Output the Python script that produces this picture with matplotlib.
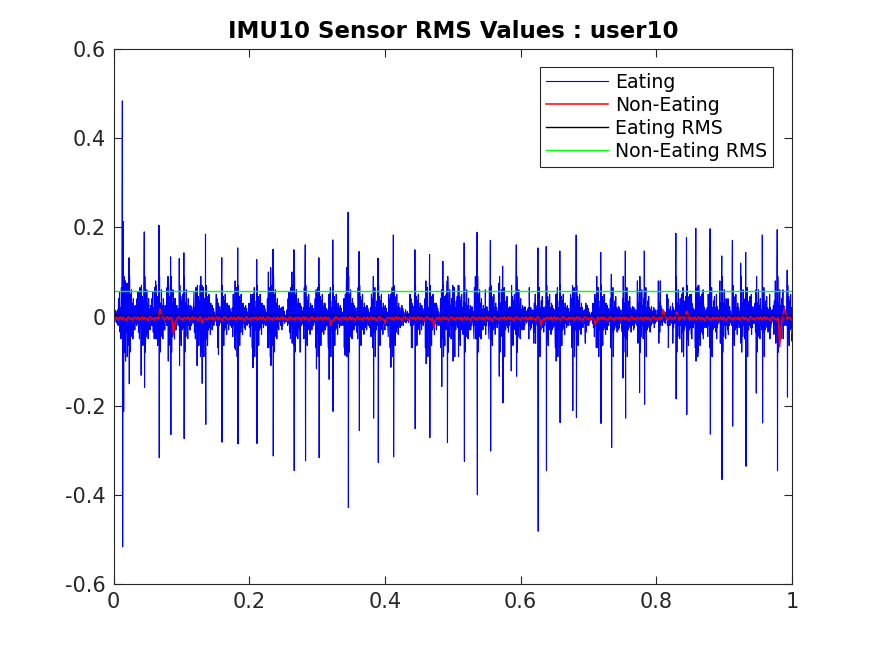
import numpy as np
import matplotlib
matplotlib.use("Agg")
import matplotlib.pyplot as plt

plt.rcParams['font.family'] = ['DejaVu Sans']
plt.rcParams['axes.unicode_minus'] = False

title = "IMU10 Sensor RMS Values : user10"
legend_labels = ["Eating", "Non-Eating", "Eating RMS", "Non-Eating RMS"]
x_ticks = [0, 0.2, 0.4, 0.6, 0.8, 1]
y_ticks = [-0.6, -0.4, -0.2, 0, 0.2, 0.4, 0.6]

# Eating signal: spike events (time, upper peak, lower peak)
spike_t = [0.0127, 0.0142, 0.017, 0.0196, 0.0225, 0.029, 0.040, 0.045, 0.049, 0.0618,
           0.0667, 0.0735, 0.080, 0.0838, 0.0907, 0.0966, 0.1034, 0.1127, 0.1225, 0.1275,
           0.130, 0.1353, 0.1446, 0.154, 0.1593, 0.169, 0.179, 0.1828, 0.1936, 0.205,
           0.2108, 0.2206, 0.228, 0.2314, 0.2348, 0.2475, 0.2627, 0.2657, 0.2745, 0.2824,
           0.2917, 0.2985, 0.3025, 0.3113, 0.3172, 0.323, 0.3333, 0.3407, 0.3436, 0.3456,
           0.353, 0.3618, 0.3725, 0.3828, 0.3897, 0.3995, 0.4083, 0.4123, 0.424, 0.4397,
           0.4441, 0.4534, 0.4603, 0.4657, 0.4755, 0.4833, 0.4853, 0.4917, 0.500, 0.508,
           0.5167, 0.526, 0.5333, 0.5358, 0.548, 0.5554, 0.5681, 0.5735, 0.5858, 0.5936,
           0.6044, 0.6142, 0.6216, 0.6255, 0.6377, 0.646, 0.652, 0.6578, 0.6681, 0.6765,
           0.6819, 0.6975, 0.7123, 0.7181, 0.727, 0.7338, 0.7441, 0.7505, 0.7544, 0.7662,
           0.775, 0.7824, 0.7956, 0.8059, 0.8186, 0.824, 0.8289, 0.8373, 0.8446, 0.852,
           0.8583, 0.8618, 0.8691, 0.8794, 0.8887, 0.8966, 0.9059, 0.9123, 0.9245, 0.9319,
           0.9402, 0.9471, 0.9564, 0.9672, 0.9784, 0.9868, 0.9931]
spike_up = [0.484, 0.213, 0.08, 0.075, 0.132, 0.03, 0.055, 0.19, 0.03, 0.08,
            0.205, 0.03, 0.09, 0.134, 0.04, 0.13, 0.143, 0.02, 0.06, 0.07,
            0.07, 0.185, 0.02, 0.03, 0.132, 0.02, 0.08, 0.154, 0.02, 0.05,
            0.128, 0.02, 0.10, 0.11, 0.151, 0.02, 0.10, 0.15, 0.03, 0.161,
            0.02, 0.06, 0.132, 0.03, 0.05, 0.172, 0.02, 0.04, 0.11, 0.234,
            0.03, 0.146, 0.02, 0.09, 0.131, 0.02, 0.05, 0.183, 0.02, 0.03,
            0.15, 0.02, 0.08, 0.139, 0.03, 0.06, 0.124, 0.08, 0.07, 0.07,
            0.165, 0.02, 0.09, 0.189, 0.06, 0.171, 0.075, 0.113, 0.02, 0.161,
            0.02, 0.02, 0.05, 0.154, 0.157, 0.02, 0.05, 0.147, 0.02, 0.07,
            0.183, 0.01, 0.09, 0.144, 0.02, 0.095, 0.02, 0.04, 0.147, 0.02,
            0.06, 0.147, 0.01, 0.08, 0.015, 0.03, 0.187, 0.05, 0.177, 0.05,
            0.198, 0.07, 0.06, 0.197, 0.05, 0.136, 0.04, 0.171, 0.12, 0.144,
            0.05, 0.06, 0.183, 0.05, 0.195, 0.06, 0.104]
spike_down = [-0.517, -0.213, -0.10, -0.06, -0.151, -0.03, -0.132, -0.159, -0.04, -0.05,
              -0.317, -0.03, -0.10, -0.265, -0.03, -0.11, -0.274, -0.03, -0.11, -0.09,
              -0.15, -0.242, -0.03, -0.085, -0.282, -0.03, -0.075, -0.286, -0.03, -0.115,
              -0.285, -0.02, -0.07, -0.11, -0.313, -0.03, -0.06, -0.346, -0.08, -0.324,
              -0.03, -0.117, -0.317, -0.03, -0.141, -0.213, -0.02, -0.087, -0.05, -0.429,
              -0.03, -0.256, -0.03, -0.228, -0.328, -0.03, -0.114, -0.315, -0.02, -0.07,
              -0.252, -0.03, -0.106, -0.272, -0.03, -0.157, -0.05, -0.283, -0.10, -0.09,
              -0.325, -0.03, -0.05, -0.40, -0.04, -0.302, -0.134, -0.194, -0.122, -0.134,
              -0.03, -0.03, -0.06, -0.482, -0.346, -0.03, -0.10, -0.238, -0.02, -0.211,
              -0.227, -0.02, -0.07, -0.24, -0.03, -0.294, -0.03, -0.138, -0.228, -0.03,
              -0.171, -0.197, -0.01, -0.02, -0.01, -0.06, -0.185, -0.08, -0.22, -0.05,
              -0.10, -0.08, -0.05, -0.264, -0.05, -0.366, -0.04, -0.246, -0.06, -0.336,
              -0.04, -0.172, -0.239, -0.05, -0.346, -0.05, -0.181]
# baseline jitter readings of the eating signal between bursts
eat_jitter = [0.008, -0.011, 0.014, -0.006, 0.012, -0.013, 0.005, -0.015, 0.010, -0.004,
              0.013, -0.009, 0.003, -0.012, 0.009, -0.007, 0.015, -0.014, 0.006, -0.005,
              0.011, -0.010, 0.004, -0.013, 0.008, -0.003, 0.016, -0.011, 0.006, -0.008]
# oscillation readings around bursts (several variants, before / after the main swing)
burst_before = [
    [0.015, -0.02, 0.04, -0.015, 0.055, -0.035, 0.02, -0.05, 0.065, -0.02],
    [0.02, -0.03, 0.025, -0.04, 0.035, -0.02, 0.08, -0.06, 0.03, -0.035],
    [0.01, -0.015, 0.03, -0.025, 0.02, -0.045, 0.05, -0.02, 0.04, -0.07],
]
burst_after = [
    [0.07, -0.05, 0.045, -0.065, 0.035, -0.03, 0.05, -0.025, 0.02, -0.04,
     0.03, -0.015, 0.02, -0.025, 0.012, -0.015, 0.015, -0.01],
    [0.09, -0.08, 0.03, -0.045, 0.06, -0.02, 0.025, -0.05, 0.04, -0.02,
     0.015, -0.03, 0.025, -0.012, 0.018, -0.02, 0.01, -0.012],
    [0.05, -0.035, 0.065, -0.09, 0.02, -0.03, 0.035, -0.02, 0.045, -0.025,
     0.02, -0.035, 0.015, -0.02, 0.022, -0.01, 0.012, -0.015],
]
eat_end = -0.055

# Non-eating signal: baseline readings and notable excursions (time, value)
ne_event_t = [0.068, 0.088, 0.130, 0.320, 0.400, 0.472, 0.630, 0.710, 0.810, 0.830,
              0.845, 0.982, 0.989]
ne_event_v = [0.018, -0.040, -0.015, -0.020, -0.015, -0.025, -0.020, -0.018, 0.015, 0.010,
              0.012, -0.068, 0.020]
ne_jitter = [-0.003, -0.006, -0.001, -0.008, -0.004, 0.000, -0.007, -0.002, -0.005, -0.009,
             -0.003, 0.001, -0.006, -0.004, -0.008, -0.002]

eating_rms = 0.004
non_eating_rms = 0.057

# ---- build the eating series from the readings ----
dt = 0.0007
ex, ey = [0.0], [0.005]
prev = 0.0
k = 0
for j, (t, u, d) in enumerate(zip(spike_t, spike_up, spike_down)):
    big = (u - d) > 0.12
    pre = burst_before[j % 3] if big else burst_before[j % 3][-4:]
    t_pre = t - len(pre) * dt
    if t_pre > prev + dt:
        n = int((t_pre - prev) / dt)
        for s in np.linspace(prev, t_pre, n + 2)[1:-1]:
            ex.append(s); ey.append(eat_jitter[k % len(eat_jitter)]); k += 1
    for i, v in enumerate(pre):
        tt = t_pre + i * dt
        if tt > prev:
            ex.append(tt); ey.append(v)
    ex += [t, t + dt * 0.6]
    ey += [u, d]
    post = burst_after[j % 3] if big else burst_after[j % 3][-6:]
    for i, v in enumerate(post):
        ex.append(t + dt * (1.2 + i)); ey.append(v)
    prev = t + dt * (1.2 + len(post))
n = max(int((1.0 - prev) / dt), 1)
for s in np.linspace(prev, 1.0, n + 2)[1:-1]:
    ex.append(s); ey.append(eat_jitter[k % len(eat_jitter)]); k += 1
ex.append(1.0); ey.append(eat_end)
order = np.argsort(ex, kind='stable')
ex = np.asarray(ex)[order]; ey = np.asarray(ey)[order]

# ---- build the non-eating series ----
nx, ny = [], []
prev = 0.0
k = 0
for t, v in zip(ne_event_t, ne_event_v):
    n = max(int((t - prev) / 0.002), 1)
    for s in np.linspace(prev, t - 0.002, n):
        nx.append(s); ny.append(ne_jitter[k % len(ne_jitter)]); k += 1
    nx += [t - 0.001, t, t + 0.002]
    ny += [v * 0.5, v, v * 0.4]
    prev = t + 0.004
n = max(int((1.0 - prev) / 0.002), 1)
for s in np.linspace(prev, 1.0, n):
    nx.append(s); ny.append(ne_jitter[k % len(ne_jitter)]); k += 1

fig = plt.figure(figsize=(8.75, 6.56), dpi=100)
ax = fig.add_axes([0.13, 0.11, 0.775, 0.815])

ax.plot(ex, ey, color='#0000ff', lw=0.8, label=legend_labels[0])
ax.plot(nx, ny, color='#ff0000', lw=1.1, label=legend_labels[1])
ax.plot([0, 1], [eating_rms, eating_rms], color='black', lw=1.0, label=legend_labels[2])
ax.plot([0, 1], [non_eating_rms, non_eating_rms], color='#00ff00', lw=1.0, label=legend_labels[3])

ax.set_xlim(0, 1)
ax.set_ylim(-0.6, 0.6)
ax.set_xticks(x_ticks)
ax.set_xticklabels(['0', '0.2', '0.4', '0.6', '0.8', '1'])
ax.set_yticks(y_ticks)
ax.set_yticklabels(['-0.6', '-0.4', '-0.2', '0', '0.2', '0.4', '0.6'])
ax.tick_params(direction='in', top=True, right=True, length=6, width=0.8,
               labelsize=15, colors='#262626', pad=6)
for sp in ax.spines.values():
    sp.set_color('#262626')
    sp.set_linewidth(0.8)
ax.set_title(title, fontsize=16.5, fontweight='bold', pad=8)

leg = ax.legend(loc='upper right', bbox_to_anchor=(0.972, 0.967), fontsize=13.6,
                frameon=True, fancybox=False, edgecolor='#262626', framealpha=1,
                handlelength=3.3, handletextpad=0.35, borderpad=0.3, labelspacing=0.22,
                borderaxespad=0)
leg.get_frame().set_linewidth(0.8)

fig.savefig('out.png', dpi=100)
